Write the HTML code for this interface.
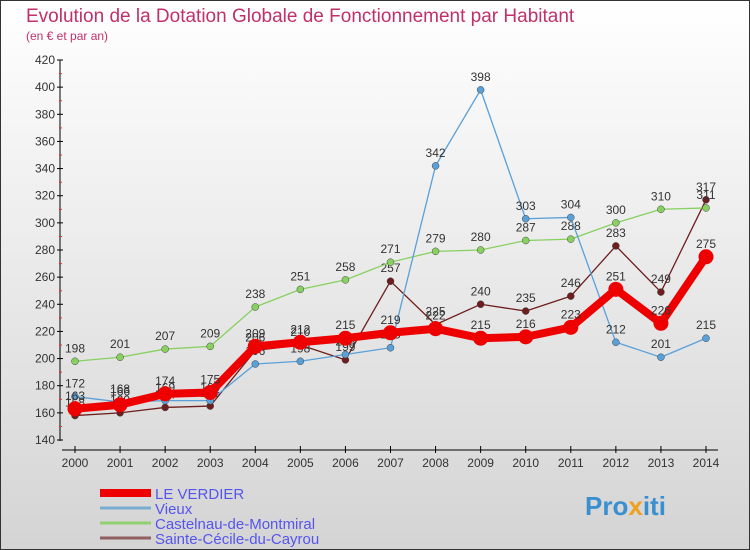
<!DOCTYPE html>
<html><head><meta charset="utf-8"><style>
html,body{margin:0;padding:0}
body{width:750px;height:550px;overflow:hidden;font-family:"Liberation Sans",sans-serif}
#wrap{position:absolute;left:0;top:0;width:748px;height:548px;border:1px solid #333;background:linear-gradient(#ffffff,#d4d4d4)}
</style></head><body>
<div id="wrap">
<svg id="chart" width="750" height="550" style="position:absolute;left:-1px;top:-1px">
<text x="26" y="22" font-size="19" fill="#c0306a">Evolution de la Dotation Globale de Fonctionnement par Habitant</text>
<text x="26" y="40" font-size="12" fill="#c0306a">(en € et par an)</text>
<g id="axes"></g><g id="series"></g><g id="legend"></g>
<text x="585" y="515" font-size="26" font-weight="bold" fill="#3a8fd0">Pro<tspan fill="#f0a020">x</tspan>iti</text>
</svg></div>
<script>
const years=[2000,2001,2002,2003,2004,2005,2006,2007,2008,2009,2010,2011,2012,2013,2014];
const yTicks=[140,160,180,200,220,240,260,280,300,320,340,360,380,400,420];
const seriesNames=["LE VERDIER","Vieux","Castelnau-de-Montmiral","Sainte-Cécile-du-Cayrou"];
const leVerdier=[163,166,174,175,209,212,215,219,222,215,216,223,251,226,275];
const vieux=[172,168,169,169,196,198,203,208,342,398,303,304,212,201,215];
const castelnau=[198,201,207,209,238,251,258,271,279,280,287,288,300,310,311];
const sainteCecile=[158,160,164,165,206,210,199,257,225,240,235,246,283,249,317];
const NS="http://www.w3.org/2000/svg";
const xS=i=>75+i*(706-75)/14;
const yS=v=>440-(v-140)*(380/280);
function mk(t,a,p){const e=document.createElementNS(NS,t);for(const k in a)e.setAttribute(k,a[k]);p.appendChild(e);return e;}
const ax=document.getElementById('axes');
const yAxis=mk('line',{x1:60,y1:60,x2:60,y2:441,stroke:'#000'},ax);


yTicks.forEach((t,i)=>{
 const y=yS(t);
 mk('line',{x1:57,y1:y,x2:63,y2:y,stroke:'#000'},ax);
 if(i<yTicks.length-1) mk('line',{x1:59,y1:y-13.5,x2:62,y2:y-13.5,stroke:'#e03030'},ax);
 const tx=mk('text',{x:55,y:y+4,'font-size':12,'text-anchor':'end',fill:'#333'},ax);
 tx.textContent=t;
 
 
});
const xAxis=mk('line',{x1:62,y1:450,x2:718,y2:450,stroke:'#000'},ax);


years.forEach((yr,i)=>{
 const x=xS(i);
 mk('line',{x1:x,y1:446,x2:x,y2:453,stroke:'#000'},ax);
 const tx=mk('text',{x:x,y:467,'font-size':12,'text-anchor':'middle',fill:'#333'},ax);
 tx.textContent=yr;
 
 
});
const sg=document.getElementById('series');
const defs=[
 {d:sainteCecile,c:'#6e1e1e',w:1.3,r:3.5,n:'series-sainte-cecile'},
 {d:castelnau,c:'#88d060',w:1.3,r:3.5,n:'series-castelnau'},
 {d:vieux,c:'#5aa0d8',w:1.3,r:3.5,n:'series-vieux'},
 {d:leVerdier,c:'#ee0000',w:8,r:7.5,n:'series-le-verdier'}
];
defs.forEach(s=>{
 const g=mk('g',{},sg);
 
 
 const pts=s.d.map((v,i)=>xS(i)+','+yS(v)).join(' ');
 mk('polyline',{points:pts,fill:'none',stroke:s.c,'stroke-width':s.w,'stroke-linejoin':'round'},g);
 s.d.forEach((v,i)=>{
  const c=mk('circle',{cx:xS(i),cy:yS(v),r:s.r,fill:s.c,stroke:s.w>2?'none':'#444','stroke-width':0.5},g);
  
  
  const t=mk('text',{x:xS(i),y:yS(v)-9,'font-size':12,'text-anchor':'middle',fill:'#333'},g);
  t.textContent=v;
  
  
 });
});
const lg=document.getElementById('legend');
const lcol=['#ee0000','#7aaed0','#90d070','#906060'];
const lw=[8,3,3,3];
seriesNames.forEach((n,i)=>{
 const y=493+i*15;
 const g=mk('g',{},lg);
 
 
 mk('line',{x1:100,y1:y,x2:151,y2:y,stroke:lcol[i],'stroke-width':lw[i]},g);
 const t=mk('text',{x:155,y:y+6,'font-size':15,fill:'#5555ee'},g);
 t.textContent=n;
});
</script>
</body></html>
